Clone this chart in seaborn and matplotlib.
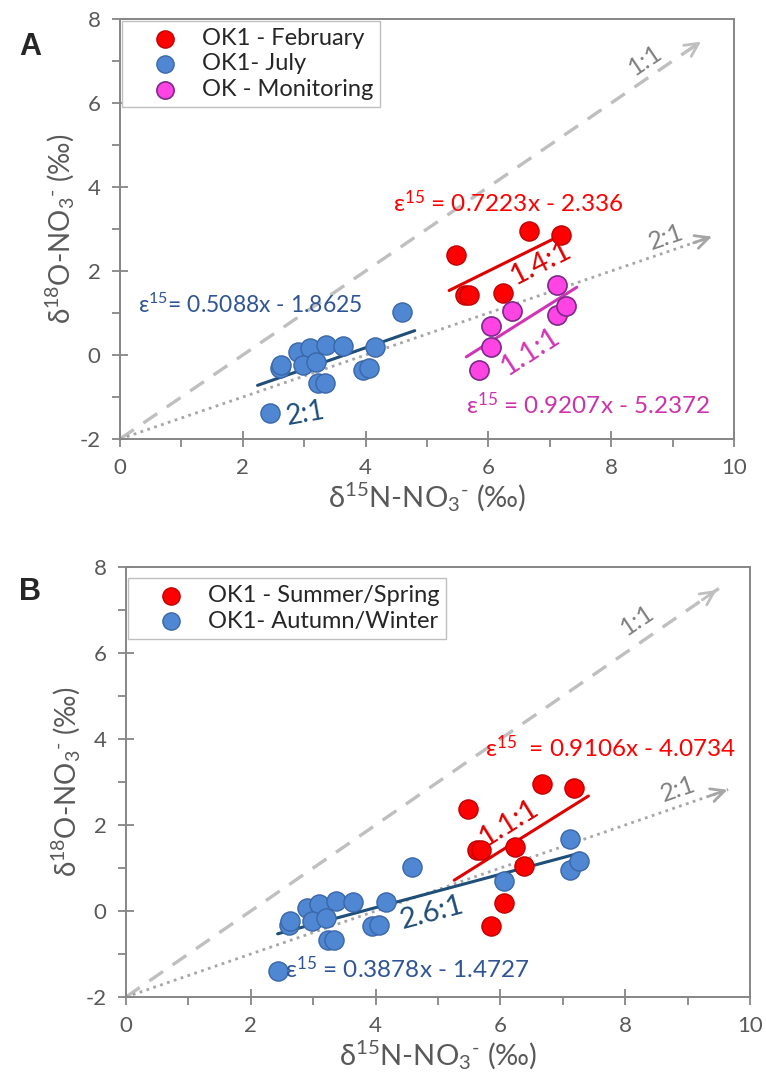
import numpy as np
import pandas as pd
import matplotlib
matplotlib.use("Agg")
import matplotlib.pyplot as plt
import seaborn as sns

# ---- data ----
# panel A
feb_x = [5.48, 5.62, 5.69, 6.23, 6.66, 7.18]
feb_y = [2.38, 1.43, 1.43, 1.48, 2.96, 2.86]
july_x = [2.44, 2.61, 2.63, 2.90, 3.09, 2.98, 3.20, 3.23, 3.34, 3.36, 3.64, 3.95, 4.06, 4.16, 4.59]
july_y = [-1.39, -0.32, -0.24, 0.08, 0.16, -0.24, -0.16, -0.67, -0.67, 0.24, 0.21, -0.36, -0.32, 0.20, 1.02]
mon_x = [5.85, 6.05, 6.05, 6.38, 7.11, 7.11, 7.26]
mon_y = [-0.36, 0.18, 0.69, 1.05, 1.67, 0.95, 1.17]

# panel B
summer_x = [5.48, 5.62, 5.69, 6.23, 6.66, 7.18, 5.85, 6.05, 6.38]
summer_y = [2.38, 1.43, 1.43, 1.48, 2.96, 2.86, -0.36, 0.18, 1.05]
autumn_x = july_x + [6.05, 7.11, 7.11, 7.26]
autumn_y = july_y + [0.69, 1.67, 0.95, 1.17]

# regression lines: slope, intercept, x-range
fit_feb = (0.7223, -2.336, 5.36, 7.27)
fit_july = (0.5088, -1.8625, 2.24, 4.80)
fit_mon = (0.9207, -5.2372, 5.64, 7.44)
fit_summer = (0.9106, -4.0734, 5.26, 7.41)
fit_autumn = (0.3878, -1.4727, 2.43, 7.27)

RED, RED_E = "#FF0000", "#C00000"
BLUE, BLUE_E = "#4F87D2", "#3A67A8"
MAG, MAG_E = "#FF44E3", "#7A2A8A"
GREY = "#595959"

sns.set_style("white")
plt.rcParams["font.family"] = ["Lato", "DejaVu Sans"]
plt.rcParams["mathtext.fontset"] = "custom"
plt.rcParams["mathtext.rm"] = "Lato"
plt.rcParams["mathtext.it"] = "Lato:italic"
plt.rcParams["axes.unicode_minus"] = False

XLAB = r"δ$^{15}$N-NO$_3$$^{\text{-}}$ (‰)"
YLAB = r"δ$^{18}$O-NO$_3$$^{\text{-}}$ (‰)"

fig = plt.figure(figsize=(7.66, 10.81), dpi=100)
axA = fig.add_axes([120 / 766, 1 - 439 / 1081, 614 / 766, 420 / 1081])
axB = fig.add_axes([126 / 766, 1 - 997 / 1081, 624 / 766, 430 / 1081])


def fit_line(ax, fit, color):
    m, b, x0, x1 = fit
    xs = np.array([x0, x1])
    sns.lineplot(x=xs, y=m * xs + b, color=color, lw=2.2, ax=ax, legend=False)


def ref_lines(ax):
    # 1:1 and 2:1 reference lines starting at (0, -2)
    ax.plot([0, 9.5], [-2, 7.5], ls=(0, (5, 3.5)), color="#BFBFBF", lw=2.4, zorder=1)
    ax.annotate("", xy=(9.5, 7.5), xytext=(9.2, 7.2),
                arrowprops=dict(arrowstyle="->", color="#BFBFBF", lw=2, mutation_scale=24))
    ax.plot([0, 9.65], [-2, 2.825], ls=(0, (1, 1.6)), color="#A6A6A6", lw=2, zorder=1)
    ax.annotate("", xy=(9.68, 2.84), xytext=(9.3, 2.65),
                arrowprops=dict(arrowstyle="->", color="#A6A6A6", lw=2, mutation_scale=24))


def style_axes(ax):
    ax.set_xlim(0, 10)
    ax.set_ylim(-2, 8)
    ax.set_xticks([0, 2, 4, 6, 8, 10])
    ax.set_yticks([-2, 0, 2, 4, 6, 8])
    ax.set_xticks([1, 3, 5, 7, 9], minor=True)
    ax.set_yticks([-1, 1, 3, 5, 7], minor=True)
    ax.tick_params(which="major", direction="inout", length=12, width=1.3, color="#868686",
                   labelsize=16, labelcolor=GREY, pad=8, left=True, bottom=True)
    ax.tick_params(which="minor", direction="out", length=6, width=1.3, color="#868686",
                   left=True, bottom=True)
    for s in ax.spines.values():
        s.set_color("#868686")
        s.set_linewidth(1.4)
    ax.set_xlabel(XLAB, fontsize=21, color=GREY, labelpad=2)
    ax.set_ylabel(YLAB, fontsize=20, color=GREY, labelpad=2)


def legend(ax, anchor):
    ax.legend(loc="upper left", bbox_to_anchor=anchor, fontsize=17, frameon=True,
              fancybox=False, edgecolor="#BFBFBF", framealpha=1, handletextpad=0.05,
              borderpad=0.3, labelspacing=0.2, handlelength=3.0, borderaxespad=0,
              markerscale=0.9)


# ---------------- panel A ----------------
ref_lines(axA)
fit_line(axA, fit_feb, "#E00000")
fit_line(axA, fit_july, "#1F4E79")
fit_line(axA, fit_mon, "#D035B5")
sns.scatterplot(x=feb_x, y=feb_y, color=RED, edgecolor=RED_E, s=190, linewidth=1,
                label="OK1 - February", ax=axA, zorder=3)
sns.scatterplot(x=july_x, y=july_y, color=BLUE, edgecolor=BLUE_E, s=190, linewidth=1,
                label="OK1- July", ax=axA, zorder=3)
sns.scatterplot(x=mon_x, y=mon_y, color=MAG, edgecolor=MAG_E, s=190, linewidth=1.2,
                label="OK - Monitoring", ax=axA, zorder=3)
style_axes(axA)

axA.text(8.55, 7.02, "1:1", color="#808080", fontsize=18, rotation=34, ha="center", va="center")
axA.text(8.90, 2.80, "2:1", color="#808080", fontsize=18, rotation=19, ha="center", va="center")
axA.text(6.86, 2.18, "1.4:1", color="#E00000", fontsize=21, rotation=27, ha="center", va="center")
axA.text(6.68, 0.08, "1.1:1", color="#D035B5", fontsize=21, rotation=33, ha="center", va="center")
axA.text(3.03, -1.40, "2:1", color="#1F4E79", fontsize=20, rotation=10, ha="center", va="center")
axA.text(6.32, 3.62, r"ε$^{15}$ = 0.7223x - 2.336", color="#FF0000", fontsize=17.5, ha="center", va="center")
axA.text(2.12, 1.19, r"ε$^{15}$= 0.5088x - 1.8625", color="#2F5597", fontsize=16.5, ha="center", va="center")
axA.text(7.62, -1.19, r"ε$^{15}$ = 0.9207x - 5.2372", color="#CC33AA", fontsize=17.5, ha="center", va="center")
legend(axA, (0.004, 0.996))

# ---------------- panel B ----------------
ref_lines(axB)
fit_line(axB, fit_summer, "#E00000")
fit_line(axB, fit_autumn, "#1F4E79")
sns.scatterplot(x=summer_x, y=summer_y, color=RED, edgecolor=RED_E, s=190, linewidth=1,
                label="OK1 - Summer/Spring", ax=axB, zorder=3)
sns.scatterplot(x=autumn_x, y=autumn_y, color=BLUE, edgecolor=BLUE_E, s=190, linewidth=1,
                label="OK1- Autumn/Winter", ax=axB, zorder=3)
style_axes(axB)

axB.text(8.20, 6.77, "1:1", color="#808080", fontsize=18, rotation=34, ha="center", va="center")
axB.text(8.84, 2.83, "2:1", color="#808080", fontsize=18, rotation=19, ha="center", va="center")
axB.text(6.14, 2.04, "1.1:1", color="#E00000", fontsize=21, rotation=32, ha="center", va="center")
axB.text(4.91, -0.05, "2.6:1", color="#1F4E79", fontsize=21, rotation=15, ha="center", va="center")
axB.text(7.77, 3.79, r"ε$^{15}$  = 0.9106x - 4.0734", color="#FF0000", fontsize=17.5, ha="center", va="center")
axB.text(4.50, -1.33, r"ε$^{15}$ = 0.3878x - 1.4727", color="#2F5597", fontsize=17.5, ha="center", va="center")
legend(axB, (0.004, 0.975))

fig.text(30 / 766, 1 - 47 / 1081, "A", fontsize=22, fontweight="bold",
         family="Liberation Sans", ha="center", va="center")
fig.text(30 / 766, 1 - 592 / 1081, "B", fontsize=22, fontweight="bold",
         family="Liberation Sans", ha="center", va="center")

fig.savefig("out.png", dpi=100)
